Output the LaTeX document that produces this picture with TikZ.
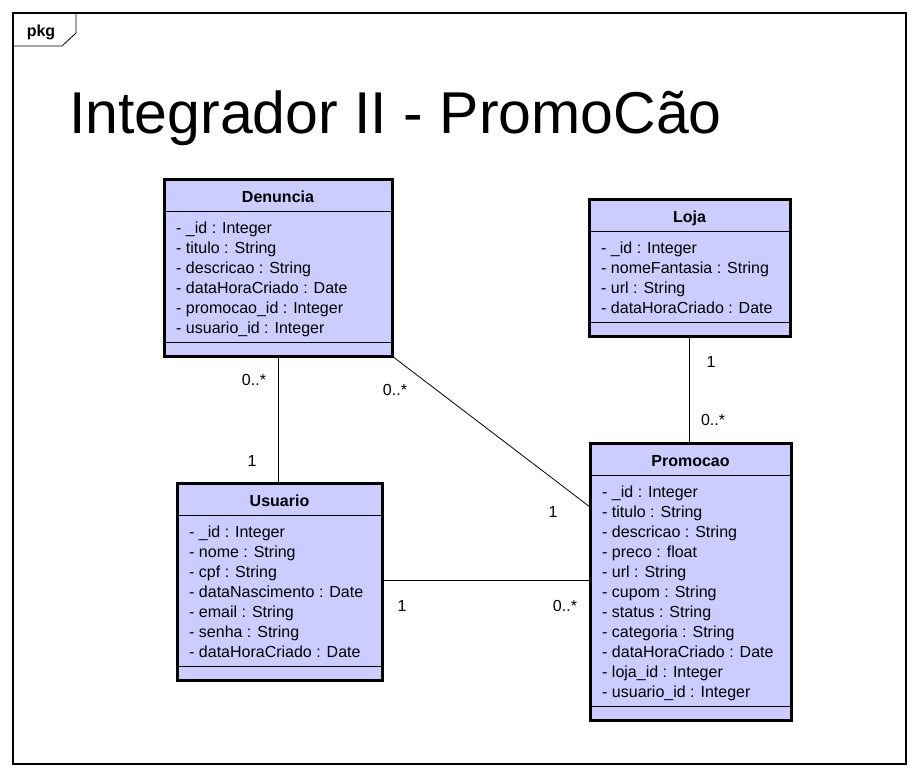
\documentclass[tikz,border=0pt]{standalone}
\usepackage{fontspec}
\setmainfont{Liberation Sans}
\definecolor{classfill}{HTML}{CCCCFF}
\tikzset{
  frameline/.style={line width=1.6pt},
  tabline/.style={line width=0.8pt},
  classbox/.style={draw, line width=3pt, fill=classfill, inner sep=0pt, outer sep=0pt, anchor=north west},
  sepline/.style={line width=0.8pt},
  classtitle/.style={font=\fontsize{16}{18}\selectfont\bfseries, inner sep=0pt, anchor=base},
  attr/.style={font=\fontsize{16}{18}\selectfont, inner sep=0pt, anchor=base west},
  mult/.style={font=\fontsize{16}{18}\selectfont, inner sep=0pt},
  assoc/.style={line width=0.8pt}
}
% name, top left corner, width, rows, title, attributes
\newcommand{\umlclass}[6]{%
  \node[classbox, minimum width=#3pt, minimum height={(57+20*#4)*1pt}] (#1) at #2 {};
  \draw[sepline] ([yshift=-32pt]#1.north west) -- ([yshift=-32pt]#1.north east);
  \draw[sepline] ([yshift=14pt]#1.south west) -- ([yshift=14pt]#1.south east);
  \node[classtitle] (#1-title) at ([yshift=-23pt]#1.north) {#5};
  \foreach \a [count=\n] in {#6}
    \node[attr] (#1-\n) at ([xshift=12pt, yshift={-(54+20*(\n-1))*1pt}]#1.north west) {\a};
}
\begin{document}
\begin{tikzpicture}[x=1pt, y=-1pt]
  \useasboundingbox (0,0) rectangle (918,777);
  % frame
  \draw[frameline] (13,13) rectangle (906,764);
  \draw[tabline] (13,46) -- (62,46) -- (76,33) -- (76,13);
  \node[font=\fontsize{16}{18}\selectfont\bfseries, inner sep=0pt, anchor=base] (pkg) at (41,36) {pkg};
  \node[font=\fontsize{59}{62}\selectfont, inner sep=0pt, anchor=base west] (title) at (69,133) {Integrador II - PromoCão};
  % classes
  \umlclass{den}{(164,179)}{228}{6}{Denuncia}{- \_id : Integer, - titulo : String, - descricao : String, - dataHoraCriado : Date, - promocao\_id : Integer, - usuario\_id : Integer}
  \umlclass{loja}{(589,199)}{201}{4}{Loja}{- \_id : Integer, - nomeFantasia : String, - url : String, - dataHoraCriado : Date}
  \umlclass{usu}{(177,483)}{205}{7}{Usuario}{- \_id : Integer, - nome : String, - cpf : String, - dataNascimento : Date, - email : String, - senha : String, - dataHoraCriado : Date}
  \umlclass{promo}{(590,443)}{201}{11}{Promocao}{- \_id : Integer, - titulo : String, - descricao : String, - preco : float, - url : String, - cupom : String, - status : String, - categoria : String, - dataHoraCriado : Date, - loja\_id : Integer, - usuario\_id : Integer}
  % associations
  \draw[assoc] (den.south) -- (den.south |- usu.north);
  \draw[assoc] (den.south east) -- ([yshift=-64pt]promo.north west);
  \draw[assoc] (loja.south) -- (loja.south |- promo.north);
  \draw[assoc] ([yshift=1pt]usu.east) -- ([yshift=1pt]usu.east -| promo.west);
  % multiplicities
  \node[mult] (m1) at (254,380) {0..*};
  \node[mult] (m2) at (252,461) {1};
  \node[mult] (m3) at (395,390) {0..*};
  \node[mult] (m4) at (553,512) {1};
  \node[mult] (m5) at (711,362) {1};
  \node[mult] (m6) at (713,420) {0..*};
  \node[mult] (m7) at (402,606) {1};
  \node[mult] (m8) at (565,606) {0..*};
\end{tikzpicture}
\end{document}
